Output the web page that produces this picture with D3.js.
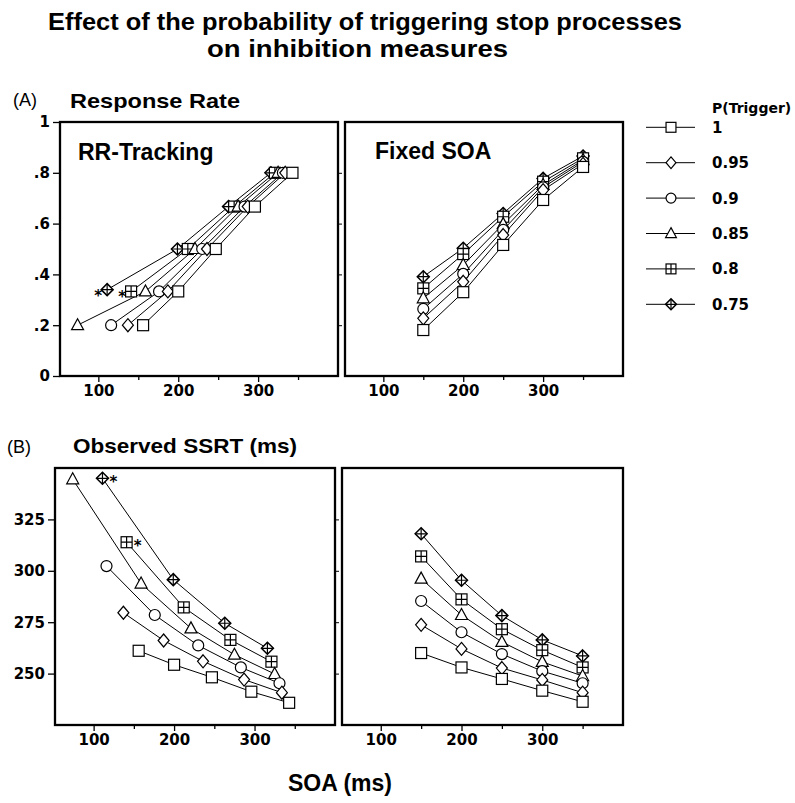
<!DOCTYPE html>
<html>
<head>
<meta charset="utf-8">
<script src="https://cdn.jsdelivr.net/npm/d3@7"></script>
<style>
  body { margin: 0; background: #fff; }
  svg { display: block; }
</style>
</head>
<body>
<svg id="chart" width="795" height="803"></svg>
<script>
// P(Trigger) levels, one series each
const pTrigger = ["1", "0.95", "0.9", "0.85", "0.8", "0.75"];
const shapes = ["square", "diamond", "circle", "triangle", "crossSquare", "crossDiamond"];

// RR-tracking: SOA reached for each target response rate
const trackSOA = [
  [156, 200, 247, 296, 343],
  [137, 187, 236, 287, 334],
  [116, 176, 230, 283, 331],
  [74, 159, 221, 275, 325],
  [141, 212, 270, 321],
  [111, 199, 263, 316]
];
const trackRR = [
  [0.2, 0.333, 0.5, 0.667, 0.8],
  [0.2, 0.333, 0.5, 0.667, 0.8],
  [0.2, 0.333, 0.5, 0.667, 0.8],
  [0.2, 0.333, 0.5, 0.667, 0.8],
  [0.333, 0.5, 0.667, 0.8],
  [0.34, 0.5, 0.667, 0.8]
];
const trackSSRT = [
  [261.1, 254.3, 248.2, 241.2, 235.8],
  [279.6, 266.1, 256.0, 247.1, 240.7],
  [302.3, 278.5, 263.7, 253.0, 245.3],
  [344.5, 293.8, 272.0, 259.2, 249.8],
  [313.9, 282.2, 266.4, 255.8],
  [345.0, 295.7, 274.5, 262.3]
];
// series whose first tracking point is starred
const starred = [4, 5];

// Fixed SOA
const fixedSOA = [150, 200, 250, 300, 350];
const fixedRR = [
  [0.181, 0.330, 0.516, 0.693, 0.823],
  [0.227, 0.371, 0.555, 0.732, 0.835],
  [0.264, 0.402, 0.575, 0.743, 0.843],
  [0.306, 0.437, 0.598, 0.752, 0.850],
  [0.345, 0.480, 0.627, 0.765, 0.857],
  [0.391, 0.503, 0.640, 0.778, 0.866]
];
const fixedSSRT = [
  [260.0, 253.0, 247.4, 241.7, 236.3],
  [273.7, 262.0, 252.7, 246.9, 240.7],
  [285.3, 270.1, 259.5, 251.2, 245.3],
  [296.2, 278.5, 265.4, 255.7, 248.8],
  [307.0, 286.1, 271.6, 261.4, 253.0],
  [318.0, 295.4, 278.2, 266.4, 258.6]
];

const soaTicks = [100, 150, 200, 250, 300, 350];
const soaLabelTicks = [100, 200, 300];
const rrTicks = [0, 0.2, 0.4, 0.6, 0.8, 1];
const rrTickLabels = ["0", ".2", ".4", ".6", ".8", "1"];
const ssrtTicks = [250, 275, 300, 325];

const svg = d3.select("#chart");
const titleFont = "'Liberation Sans', Arial, sans-serif";
const numFont = "'DejaVu Sans', sans-serif";

// marker drawing
function marker(g, kind, s) {
  const k = s || 1;
  const add = d => g.append("path").attr("d", d).attr("fill", "none");
  if (kind === "circle") {
    g.append("circle").attr("r", 5.5 * k).attr("fill", "#fff");
  } else if (kind === "square") {
    g.append("rect").attr("x", -5.5 * k).attr("y", -5.5 * k)
      .attr("width", 11 * k).attr("height", 11 * k).attr("fill", "#fff");
  } else if (kind === "diamond") {
    g.append("path").attr("d", `M0,${-6.5 * k}L${5.5 * k},0L0,${6.5 * k}L${-5.5 * k},0Z`).attr("fill", "#fff");
  } else if (kind === "triangle") {
    g.append("path").attr("d", `M0,${-6.5 * k}L${6 * k},${4.5 * k}L${-6 * k},${4.5 * k}Z`).attr("fill", "#fff");
  } else if (kind === "crossSquare") {
    g.append("rect").attr("x", -5.5 * k).attr("y", -5.5 * k)
      .attr("width", 11 * k).attr("height", 11 * k).attr("fill", "#fff");
    add(`M0,${-5.5 * k}V${5.5 * k}M${-5.5 * k},0H${5.5 * k}`);
  } else if (kind === "crossDiamond") {
    g.append("path").attr("d", `M0,${-6 * k}L${6 * k},0L0,${6 * k}L${-6 * k},0Z`).attr("fill", "#fff")
      .attr("stroke-width", 1.5);
    add(`M0,${-6 * k}V${6 * k}M${-6 * k},0H${6 * k}`);
  }
  g.attr("stroke", "#000").attr("stroke-width", 1.2);
}

function panel(opt) {
  const x = d3.scaleLinear().domain([52, 400]).range([opt.x0, opt.x1]);
  const y = d3.scaleLinear().domain(opt.yDomain).range([opt.y1, opt.y0]);
  const g = svg.append("g");

  // x axis ticks
  const xa = g.append("g").attr("transform", `translate(0,${opt.y1})`)
    .call(d3.axisBottom(x).tickValues(soaTicks).tickSizeOuter(0).tickSize(5)
      .tickFormat(d => soaLabelTicks.includes(d) ? d : ""));
  xa.select(".domain").remove();
  xa.selectAll(".tick line").attr("stroke-width", 1.3)
    .attr("y2", d => soaLabelTicks.includes(d) ? 6 : 4);
  xa.selectAll("text").attr("font-family", numFont).attr("font-weight", "bold")
    .attr("font-size", 15).attr("fill", "#000").attr("dy", "0.85em").attr("y", 7);

  if (opt.yLeft) {
    const ya = g.append("g").attr("transform", `translate(${opt.x0},0)`)
      .call(d3.axisLeft(y).tickValues(opt.yTicks).tickSize(7).tickPadding(3)
        .tickFormat((d, i) => opt.yLabels ? opt.yLabels[i] : d));
    ya.select(".domain").remove();
    ya.selectAll(".tick line").attr("stroke-width", 1.3);
    ya.selectAll("text").attr("font-family", numFont).attr("font-weight", "bold")
      .attr("font-size", 15).attr("fill", "#000");
    const yr = g.append("g").attr("transform", `translate(${opt.x1},0)`)
      .call(d3.axisRight(y).tickValues(opt.yTicks.filter(v => v > opt.yDomain[0] && v < opt.yDomain[1]))
        .tickSize(4).tickFormat(""));
    yr.select(".domain").remove();
  }

  const line = d3.line().x(d => x(d[0])).y(d => y(d[1]));
  const series = opt.xs.map((xs, i) => xs.map((v, j) => [v, opt.ys[i][j]]));

  g.selectAll(".ln").data(series).join("path").attr("class", "ln")
    .attr("d", line).attr("fill", "none").attr("stroke", "#000").attr("stroke-width", 1);

  // draw from 0.75 up to 1 so the square ends on top
  d3.range(series.length - 1, -1, -1).forEach(i => {
    series[i].forEach(p => {
      const m = g.append("g").attr("transform", `translate(${x(p[0])},${y(p[1])})`);
      marker(m, shapes[i]);
    });
  });

  if (opt.stars) {
    starred.forEach(i => {
      const p = series[i][0];
      g.append("text").attr("x", x(p[0]) + opt.stars.dx).attr("y", y(p[1]) + opt.stars.dy)
        .attr("text-anchor", "middle").attr("font-family", numFont).attr("font-weight", "bold")
        .attr("fill", "#000").attr("font-size", 15).text("*");
    });
  }

  g.append("rect").attr("x", opt.x0).attr("y", opt.y0)
    .attr("width", opt.x1 - opt.x0).attr("height", opt.y1 - opt.y0)
    .attr("fill", "none").attr("stroke", "#000").attr("stroke-width", 2.3);

  if (opt.label) {
    g.append("text").attr("x", opt.label.x).attr("y", opt.label.y)
      .attr("font-family", titleFont).attr("font-weight", "bold").attr("font-size", 23)
      .text(opt.label.text);
  }
}

const seriesLen = (xs, ys) => ys.map(() => xs);

panel({ x0: 60, x1: 338, y0: 122, y1: 376, yDomain: [0, 1], yTicks: rrTicks, yLabels: rrTickLabels,
  yLeft: true, xs: trackSOA, ys: trackRR, stars: { dx: -9, dy: 11 },
  label: { x: 78, y: 160, text: "RR-Tracking" } });
panel({ x0: 345, x1: 623, y0: 122, y1: 376, yDomain: [0, 1], yTicks: rrTicks,
  xs: seriesLen(fixedSOA, fixedRR), ys: fixedRR,
  label: { x: 375, y: 159, text: "Fixed SOA" } });
panel({ x0: 55, x1: 335, y0: 468, y1: 725, yDomain: [225, 350], yTicks: ssrtTicks,
  yLeft: true, xs: trackSOA, ys: trackSSRT, stars: { dx: 11, dy: 9 } });
panel({ x0: 342, x1: 623, y0: 468, y1: 725, yDomain: [225, 350], yTicks: ssrtTicks,
  xs: seriesLen(fixedSOA, fixedSSRT), ys: fixedSSRT });

// titles
svg.append("text").attr("x", 48).attr("y", 30).attr("textLength", 634).attr("lengthAdjust", "spacingAndGlyphs")
  .attr("font-family", titleFont).attr("font-weight", "bold").attr("font-size", 24)
  .text("Effect of the probability of triggering stop processes");
svg.append("text").attr("x", 207).attr("y", 57).attr("textLength", 301).attr("lengthAdjust", "spacingAndGlyphs")
  .attr("font-family", titleFont).attr("font-weight", "bold").attr("font-size", 24)
  .text("on inhibition measures");

svg.append("text").attr("x", 13).attr("y", 106).attr("font-family", titleFont).attr("font-size", 18).text("(A)");
svg.append("text").attr("x", 70).attr("y", 108).attr("textLength", 170).attr("lengthAdjust", "spacingAndGlyphs")
  .attr("font-family", titleFont).attr("font-weight", "bold").attr("font-size", 21).text("Response Rate");
svg.append("text").attr("x", 7).attr("y", 453).attr("font-family", titleFont).attr("font-size", 18).text("(B)");
svg.append("text").attr("x", 73).attr("y", 453).attr("textLength", 224).attr("lengthAdjust", "spacingAndGlyphs")
  .attr("font-family", titleFont).attr("font-weight", "bold").attr("font-size", 21).text("Observed SSRT (ms)");
svg.append("text").attr("x", 340).attr("y", 791).attr("text-anchor", "middle")
  .attr("font-family", titleFont).attr("font-weight", "bold").attr("font-size", 23).text("SOA (ms)");

// legend
const legend = svg.append("g");
legend.append("text").attr("x", 712).attr("y", 113).attr("font-family", numFont).attr("font-weight", "bold")
  .attr("font-size", 14).text("P(Trigger)");
const rowY = d3.scalePoint().domain(pTrigger).range([127.3, 304.3]);
pTrigger.forEach((p, i) => {
  const cy = rowY(p);
  legend.append("line").attr("x1", 646).attr("x2", 695).attr("y1", cy).attr("y2", cy)
    .attr("stroke", "#000").attr("stroke-width", 1);
  marker(legend.append("g").attr("transform", `translate(671,${cy})`), shapes[i], 0.9);
  legend.append("text").attr("x", 712).attr("y", cy + 5.5).attr("font-family", numFont)
    .attr("font-weight", "bold").attr("font-size", 15).text(p);
});
</script>
</body>
</html>
